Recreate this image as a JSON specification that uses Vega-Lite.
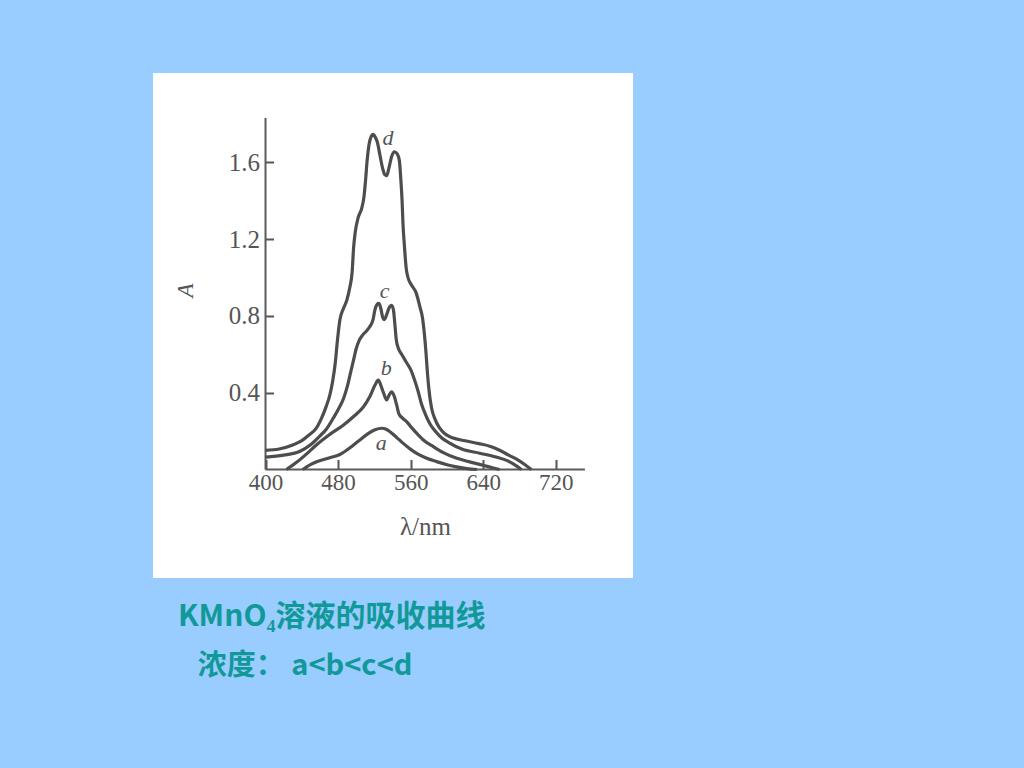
{
  "$schema": "https://vega.github.io/schema/vega-lite/v6.json",
  "width": 480,
  "height": 505,
  "autosize": {"type": "none"},
  "padding": {"left": 153, "top": 73, "right": 391, "bottom": 190},
  "background": "#99CCFF",
  "view": {"fill": "#FFFFFF", "stroke": null},
  "title": {
    "text": "KMnO₄溶液的吸收曲线",
    "subtitle": "\u200b\u00a0\u00a0\u00a0浓度： a<b<c<d",
    "orient": "bottom",
    "anchor": "start",
    "frame": "group",
    "dx": 25,
    "offset": 24,
    "font": "Noto Sans CJK SC",
    "fontSize": 30,
    "fontWeight": "bold",
    "color": "#119999",
    "subtitleFont": "Noto Sans CJK SC",
    "subtitleFontSize": 29,
    "subtitleFontWeight": "bold",
    "subtitleColor": "#119999",
    "subtitlePadding": 20
  },
  "config": {
    "axis": {
      "grid": false,
      "domain": false,
      "labelFont": "Liberation Serif",
      "labelFontSize": 23,
      "labelColor": "#555555",
      "tickColor": "#555555",
      "tickWidth": 2,
      "titleFont": "Liberation Serif",
      "titleColor": "#555555",
      "titleFontWeight": "normal"
    }
  },
  "datasets": {
    "curves": [
      {"s": "d", "wl": 400, "A": 0.10}, {"s": "d", "wl": 415, "A": 0.107}, {"s": "d", "wl": 430, "A": 0.128}, {"s": "d", "wl": 440, "A": 0.15}, {"s": "d", "wl": 448, "A": 0.18}, {"s": "d", "wl": 456, "A": 0.215}, {"s": "d", "wl": 462, "A": 0.27}, {"s": "d", "wl": 467, "A": 0.33}, {"s": "d", "wl": 471, "A": 0.39}, {"s": "d", "wl": 474, "A": 0.46}, {"s": "d", "wl": 477, "A": 0.56}, {"s": "d", "wl": 479, "A": 0.66}, {"s": "d", "wl": 482, "A": 0.78}, {"s": "d", "wl": 486, "A": 0.84}, {"s": "d", "wl": 489.5, "A": 0.88}, {"s": "d", "wl": 493, "A": 0.95}, {"s": "d", "wl": 495.5, "A": 1.03}, {"s": "d", "wl": 497, "A": 1.15}, {"s": "d", "wl": 499, "A": 1.24}, {"s": "d", "wl": 502, "A": 1.31}, {"s": "d", "wl": 506, "A": 1.36}, {"s": "d", "wl": 508.5, "A": 1.42}, {"s": "d", "wl": 510.5, "A": 1.52}, {"s": "d", "wl": 512, "A": 1.61}, {"s": "d", "wl": 514, "A": 1.69}, {"s": "d", "wl": 516.5, "A": 1.735}, {"s": "d", "wl": 518.5, "A": 1.745}, {"s": "d", "wl": 521, "A": 1.73}, {"s": "d", "wl": 523.5, "A": 1.70}, {"s": "d", "wl": 526, "A": 1.64}, {"s": "d", "wl": 529, "A": 1.57}, {"s": "d", "wl": 531.5, "A": 1.535}, {"s": "d", "wl": 533.5, "A": 1.53}, {"s": "d", "wl": 536, "A": 1.57}, {"s": "d", "wl": 539, "A": 1.63}, {"s": "d", "wl": 542, "A": 1.655}, {"s": "d", "wl": 545, "A": 1.645}, {"s": "d", "wl": 547.5, "A": 1.61}, {"s": "d", "wl": 549, "A": 1.52}, {"s": "d", "wl": 550.5, "A": 1.40}, {"s": "d", "wl": 551.5, "A": 1.28}, {"s": "d", "wl": 553, "A": 1.17}, {"s": "d", "wl": 555, "A": 1.05}, {"s": "d", "wl": 557, "A": 1.0}, {"s": "d", "wl": 561, "A": 0.96}, {"s": "d", "wl": 566, "A": 0.92}, {"s": "d", "wl": 570, "A": 0.85}, {"s": "d", "wl": 573, "A": 0.79}, {"s": "d", "wl": 575, "A": 0.71}, {"s": "d", "wl": 577, "A": 0.60}, {"s": "d", "wl": 578.5, "A": 0.50}, {"s": "d", "wl": 580.5, "A": 0.40}, {"s": "d", "wl": 583, "A": 0.32}, {"s": "d", "wl": 587, "A": 0.26}, {"s": "d", "wl": 592, "A": 0.215}, {"s": "d", "wl": 598, "A": 0.185}, {"s": "d", "wl": 606, "A": 0.165}, {"s": "d", "wl": 620, "A": 0.15}, {"s": "d", "wl": 635, "A": 0.135}, {"s": "d", "wl": 648, "A": 0.12}, {"s": "d", "wl": 658, "A": 0.10}, {"s": "d", "wl": 668, "A": 0.075}, {"s": "d", "wl": 678, "A": 0.05}, {"s": "d", "wl": 686, "A": 0.025}, {"s": "d", "wl": 693, "A": 0.0},

      {"s": "c", "wl": 400, "A": 0.065}, {"s": "c", "wl": 420, "A": 0.075}, {"s": "c", "wl": 438, "A": 0.095}, {"s": "c", "wl": 450, "A": 0.13}, {"s": "c", "wl": 460, "A": 0.175}, {"s": "c", "wl": 467, "A": 0.21}, {"s": "c", "wl": 475, "A": 0.27}, {"s": "c", "wl": 481, "A": 0.32}, {"s": "c", "wl": 486, "A": 0.37}, {"s": "c", "wl": 490, "A": 0.43}, {"s": "c", "wl": 494, "A": 0.51}, {"s": "c", "wl": 497, "A": 0.57}, {"s": "c", "wl": 500, "A": 0.63}, {"s": "c", "wl": 503, "A": 0.67}, {"s": "c", "wl": 507, "A": 0.70}, {"s": "c", "wl": 511, "A": 0.72}, {"s": "c", "wl": 515, "A": 0.745}, {"s": "c", "wl": 518.5, "A": 0.78}, {"s": "c", "wl": 520.5, "A": 0.83}, {"s": "c", "wl": 523, "A": 0.86}, {"s": "c", "wl": 525, "A": 0.865}, {"s": "c", "wl": 527, "A": 0.84}, {"s": "c", "wl": 529, "A": 0.795}, {"s": "c", "wl": 531, "A": 0.78}, {"s": "c", "wl": 533, "A": 0.80}, {"s": "c", "wl": 536, "A": 0.84}, {"s": "c", "wl": 539, "A": 0.855}, {"s": "c", "wl": 541, "A": 0.83}, {"s": "c", "wl": 542.5, "A": 0.76}, {"s": "c", "wl": 544, "A": 0.68}, {"s": "c", "wl": 546.5, "A": 0.63}, {"s": "c", "wl": 550, "A": 0.60}, {"s": "c", "wl": 555, "A": 0.56}, {"s": "c", "wl": 560, "A": 0.52}, {"s": "c", "wl": 564, "A": 0.47}, {"s": "c", "wl": 568, "A": 0.41}, {"s": "c", "wl": 572, "A": 0.34}, {"s": "c", "wl": 576, "A": 0.29}, {"s": "c", "wl": 581, "A": 0.24}, {"s": "c", "wl": 587, "A": 0.20}, {"s": "c", "wl": 594, "A": 0.165}, {"s": "c", "wl": 602, "A": 0.14}, {"s": "c", "wl": 617, "A": 0.105}, {"s": "c", "wl": 636, "A": 0.085}, {"s": "c", "wl": 654, "A": 0.065}, {"s": "c", "wl": 667, "A": 0.045}, {"s": "c", "wl": 676, "A": 0.02}, {"s": "c", "wl": 682, "A": 0.0},

      {"s": "b", "wl": 423, "A": 0.0}, {"s": "b", "wl": 435, "A": 0.04}, {"s": "b", "wl": 445, "A": 0.08}, {"s": "b", "wl": 456, "A": 0.128}, {"s": "b", "wl": 470, "A": 0.18}, {"s": "b", "wl": 486, "A": 0.232}, {"s": "b", "wl": 498, "A": 0.28}, {"s": "b", "wl": 508, "A": 0.327}, {"s": "b", "wl": 515, "A": 0.38}, {"s": "b", "wl": 520.7, "A": 0.44}, {"s": "b", "wl": 524.3, "A": 0.466}, {"s": "b", "wl": 527, "A": 0.44}, {"s": "b", "wl": 530, "A": 0.40}, {"s": "b", "wl": 533.5, "A": 0.362}, {"s": "b", "wl": 536, "A": 0.385}, {"s": "b", "wl": 539, "A": 0.405}, {"s": "b", "wl": 542, "A": 0.38}, {"s": "b", "wl": 544.6, "A": 0.335}, {"s": "b", "wl": 547, "A": 0.29}, {"s": "b", "wl": 551, "A": 0.268}, {"s": "b", "wl": 556, "A": 0.247}, {"s": "b", "wl": 561, "A": 0.218}, {"s": "b", "wl": 567, "A": 0.187}, {"s": "b", "wl": 575, "A": 0.15}, {"s": "b", "wl": 585, "A": 0.119}, {"s": "b", "wl": 596, "A": 0.088}, {"s": "b", "wl": 610, "A": 0.06}, {"s": "b", "wl": 625, "A": 0.04}, {"s": "b", "wl": 640, "A": 0.022}, {"s": "b", "wl": 650, "A": 0.009}, {"s": "b", "wl": 658, "A": 0.0},

      {"s": "a", "wl": 441, "A": 0.0}, {"s": "a", "wl": 450, "A": 0.027}, {"s": "a", "wl": 457, "A": 0.042}, {"s": "a", "wl": 470, "A": 0.06}, {"s": "a", "wl": 482, "A": 0.078}, {"s": "a", "wl": 495, "A": 0.12}, {"s": "a", "wl": 504, "A": 0.154}, {"s": "a", "wl": 513, "A": 0.187}, {"s": "a", "wl": 520.7, "A": 0.207}, {"s": "a", "wl": 528, "A": 0.215}, {"s": "a", "wl": 533, "A": 0.21}, {"s": "a", "wl": 537.2, "A": 0.197}, {"s": "a", "wl": 545, "A": 0.165}, {"s": "a", "wl": 551.8, "A": 0.136}, {"s": "a", "wl": 560, "A": 0.105}, {"s": "a", "wl": 566.6, "A": 0.084}, {"s": "a", "wl": 577, "A": 0.06}, {"s": "a", "wl": 588.6, "A": 0.041}, {"s": "a", "wl": 600, "A": 0.025}, {"s": "a", "wl": 610.7, "A": 0.014}, {"s": "a", "wl": 622, "A": 0.005}, {"s": "a", "wl": 633, "A": 0.0}
    ],
    "axislines": [
      {"wl": 400, "wl2": 752, "A": 0, "A2": 0},
      {"wl": 400, "wl2": 400, "A": 0, "A2": 1.83}
    ],
    "labels": [
      {"t": "d", "wl": 535, "A": 1.727},
      {"t": "c", "wl": 531.3, "A": 0.928},
      {"t": "b", "wl": 533, "A": 0.529},
      {"t": "a", "wl": 527.6, "A": 0.138}
    ]
  },
  "layer": [
    {
      "data": {"name": "axislines"},
      "mark": {"type": "rule", "color": "#5a5a5a", "strokeWidth": 2},
      "encoding": {
        "x": {"field": "wl", "type": "quantitative", "scale": {"domain": [276, 805], "nice": false, "zero": false},
          "axis": {"orient": "bottom", "offset": -108.5, "values": [400, 480, 560, 640, 720], "tickSize": -10, "labelPadding": 12,
            "title": "λ/nm", "titleFontSize": 25, "titleX": 272, "titleY": 65, "titleBaseline": "alphabetic", "titleAnchor": null, "titleAlign": "center"}},
        "x2": {"field": "wl2"},
        "y": {"field": "A", "type": "quantitative", "scale": {"domain": [-0.565, 2.065], "nice": false, "zero": false},
          "axis": {"orient": "left", "offset": -112.5, "values": [0.4, 0.8, 1.2, 1.6], "format": ".1f", "tickSize": -8, "labelPadding": 14, "labelFontSize": 25,
            "title": "A", "titleFontStyle": "italic", "titleFontSize": 23, "titleX": -80, "titleY": 217, "titleAngle": -90, "titleBaseline": "middle", "titleAlign": "center", "titleAnchor": null}},
        "y2": {"field": "A2"}
      }
    },
    {
      "data": {"name": "curves"},
      "mark": {"type": "line", "color": "#4d4d4d", "strokeWidth": 3.2, "interpolate": "monotone"},
      "encoding": {
        "x": {"field": "wl", "type": "quantitative"},
        "y": {"field": "A", "type": "quantitative"},
        "detail": {"field": "s", "type": "nominal"}
      }
    },
    {
      "data": {"name": "labels"},
      "mark": {"type": "text", "font": "Liberation Serif", "fontStyle": "italic", "fontSize": 22, "color": "#555555", "align": "center", "baseline": "middle"},
      "encoding": {
        "x": {"field": "wl", "type": "quantitative"},
        "y": {"field": "A", "type": "quantitative"},
        "text": {"field": "t", "type": "nominal"}
      }
    }
  ]
}
